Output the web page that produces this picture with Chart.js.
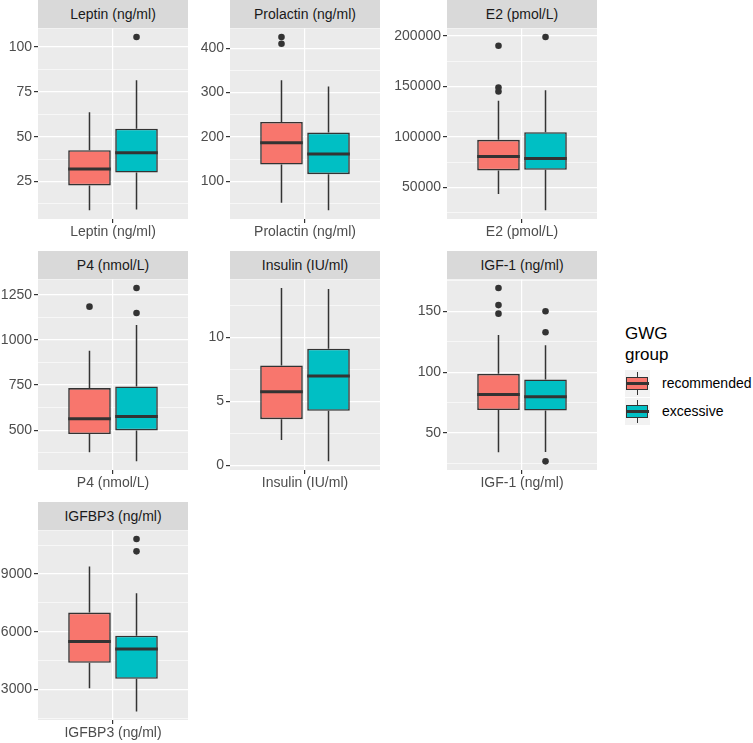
<!DOCTYPE html>
<html>
<head>
<meta charset="utf-8">
<script src="https://cdn.jsdelivr.net/npm/chart.js@4.4.1/dist/chart.umd.min.js"></script>
<style>
  body { margin: 0; background: #fff; font-family: 'Liberation Sans', Arial, sans-serif; }
  #wrap { position: relative; width: 753px; height: 743px; overflow: hidden; }
  .strip { position: absolute; width: 150px; height: 28px; line-height: 28px; background: #D9D9D9;
           color: #1A1A1A; font-size: 14px; text-align: center; white-space: nowrap; }
  canvas { position: absolute; }
  .legtitle { position: absolute; left: 625px; top: 323px; font-size: 17px; line-height: 21px; color: #000; }
  .key { position: absolute; left: 625px; width: 25px; height: 27px; background: #F2F2F2; }
  .key .wh { position: absolute; left: 11.8px; top: 2px; width: 1.5px; height: 23px; background: #333; }
  .key .bx { position: absolute; left: 1px; top: 7px; width: 20px; height: 11px; border: 1.5px solid #333; }
  .key .md { position: absolute; left: 1px; top: 12px; width: 23px; height: 3px; background: #333; }
  .leglab { position: absolute; left: 662px; font-size: 14px; line-height: 16px; color: #000; }
</style>
</head>
<body>
<div id="wrap"></div>
<script>
const panelNames = ['Leptin (ng/ml)', 'Prolactin (ng/ml)', 'E2 (pmol/L)', 'P4 (nmol/L)',
                    'Insulin (IU/ml)', 'IGF-1 (ng/ml)', 'IGFBP3 (ng/ml)'];
const groupNames = ['recommended', 'excessive'];
const groupColors = ['#F8766D', '#00BFC4'];

// [lower whisker, Q1, median, Q3, upper whisker] for each panel
const recommendedStats = [
  [8.9, 22.8, 31.9, 42.5, 63.6],
  [52, 138, 187, 234, 328],
  [43500, 66800, 80700, 97200, 136000],
  [378, 478, 563, 733, 940],
  [1.97, 3.61, 5.75, 7.81, 13.87],
  [34.2, 68.9, 81.7, 98.6, 130.4],
  [3067, 4390, 5500, 7000, 9397]
];
const excessiveStats = [
  [9.4, 30, 41, 54.5, 81.5],
  [35, 116.5, 162, 210, 314],
  [27300, 67500, 78700, 104800, 146300],
  [327, 498, 575, 742, 1083],
  [0.31, 4.26, 6.98, 9.12, 13.79],
  [34.5, 68.5, 79.8, 94, 122.1],
  [1866, 3560, 5108, 5794, 8005]
];
const recommendedOutliers = [[], [410, 425], [145000, 149000, 190400], [1184], [], [148, 155, 169], []];
const excessiveOutliers = [[105.6], [], [199000], [1149, 1287], [], [26.8, 132.7, 150], [10180, 10820]];

const yTicks = [
  [25, 50, 75, 100],
  [100, 200, 300, 400],
  [50000, 100000, 150000, 200000],
  [500, 750, 1000, 1250],
  [0, 5, 10],
  [50, 100, 150],
  [3000, 6000, 9000]
];

const allStats = [recommendedStats, excessiveStats];
const allOutliers = [recommendedOutliers, excessiveOutliers];

const colLeft = [38, 230, 447];
const rowTop = [28, 279, 530];
const rowH = [191, 191, 190];

const boxPlugin = {
  id: 'boxes',
  beforeDraw(chart) {
    const a = chart.chartArea, c = chart.ctx;
    c.save();
    c.fillStyle = '#EBEBEB';
    c.fillRect(a.left, a.top, a.right - a.left, a.bottom - a.top);
    c.restore();
  },
  afterDatasetsDraw(chart) {
    const y = chart.scales.y, c = chart.ctx;
    chart.data.datasets.forEach((ds, i) => {
      const bar = chart.getDatasetMeta(i).data[0];
      const [lo, q1, med, q3, hi] = ds.stats;
      c.save();
      c.strokeStyle = '#333333';
      c.lineWidth = 1.5;
      c.beginPath();
      c.moveTo(bar.x, y.getPixelForValue(q3));
      c.lineTo(bar.x, y.getPixelForValue(hi));
      c.moveTo(bar.x, y.getPixelForValue(q1));
      c.lineTo(bar.x, y.getPixelForValue(lo));
      c.stroke();
      c.lineWidth = 3;
      c.beginPath();
      c.moveTo(bar.x - bar.width / 2, y.getPixelForValue(med));
      c.lineTo(bar.x + bar.width / 2, y.getPixelForValue(med));
      c.stroke();
      c.fillStyle = '#333333';
      ds.outliers.forEach(v => {
        c.beginPath();
        c.arc(bar.x, y.getPixelForValue(v), 3.3, 0, Math.PI * 2);
        c.fill();
      });
      c.restore();
    });
  }
};

const wrap = document.getElementById('wrap');

panelNames.forEach((name, p) => {
  const col = p % 3, row = Math.floor(p / 3);
  const left = colLeft[col], top = rowTop[row], h = rowH[row];

  // y limits like ggplot: data range + 5%
  const vals = [];
  for (let k = 0; k < 2; k++) vals.push(...allStats[k][p], ...allOutliers[k][p]);
  const lo = Math.min(...vals), hi = Math.max(...vals);
  const pad = (hi - lo) * 0.05;
  const yMin = lo - pad, yMax = hi + pad;

  const majors = yTicks[p];
  const step = majors[1] - majors[0];
  const tickList = [];
  for (let v = majors[0] - step / 2; v <= majors[majors.length - 1] + step / 2 + 1e-9; v += step / 2) {
    if (v >= yMin && v <= yMax) tickList.push({ value: v, major: majors.includes(v) });
  }

  const strip = document.createElement('div');
  strip.className = 'strip';
  strip.style.left = left + 'px';
  strip.style.top = (top - 28) + 'px';
  strip.textContent = name;
  wrap.appendChild(strip);

  const cv = document.createElement('canvas');
  cv.width = 210;
  cv.height = 10 + h + 30;
  cv.style.left = (left - 60) + 'px';
  cv.style.top = (top - 10) + 'px';
  wrap.appendChild(cv);

  new Chart(cv, {
    type: 'bar',
    data: {
      labels: [name],
      datasets: groupNames.map((g, k) => ({
        label: g,
        data: [[allStats[k][p][1], allStats[k][p][3]]],
        stats: allStats[k][p],
        outliers: allOutliers[k][p],
        backgroundColor: groupColors[k],
        borderColor: '#333333',
        borderWidth: 1.6,
        borderSkipped: false,
        categoryPercentage: 0.627,
        barPercentage: 0.906
      }))
    },
    options: {
      responsive: false,
      animation: false,
      layout: { padding: { top: 10, left: 0, right: 0, bottom: 0 } },
      plugins: { legend: { display: false }, tooltip: { enabled: false } },
      scales: {
        x: {
          grid: { offset: false, color: '#FFFFFF', lineWidth: 1.2, tickLength: 4, tickColor: '#333333', tickWidth: 1.2 },
          border: { display: false },
          ticks: { color: '#4D4D4D', font: { size: 14 }, padding: 1 },
          afterFit: s => { s.height = 30; }
        },
        y: {
          min: yMin,
          max: yMax,
          bounds: 'data',
          beginAtZero: false,
          grid: {
            color: '#FFFFFF',
            lineWidth: ctx => (ctx.tick && ctx.tick.major ? 1.2 : 0.6),
            tickLength: 4,
            tickWidth: 1.2,
            tickColor: ctx => (ctx.tick && ctx.tick.major ? '#333333' : 'rgba(0,0,0,0)')
          },
          border: { display: false },
          ticks: {
            autoSkip: false,
            color: '#4D4D4D',
            font: { size: 14 },
            padding: 2,
            callback: (v, i, t) => (t[i].major ? String(v) : '')
          },
          afterBuildTicks: s => { s.ticks = tickList.map(t => ({ value: t.value, major: t.major })); },
          afterFit: s => { s.width = 60; }
        }
      }
    },
    plugins: [boxPlugin]
  });
});

// legend
const title = document.createElement('div');
title.className = 'legtitle';
title.innerHTML = 'GWG<br>group';
wrap.appendChild(title);
const keyTops = [370, 398];
groupNames.forEach((g, k) => {
  const key = document.createElement('div');
  key.className = 'key';
  key.style.top = keyTops[k] + 'px';
  key.innerHTML = '<div class="wh"></div><div class="bx" style="background:' + groupColors[k] +
                  '"></div><div class="md"></div>';
  wrap.appendChild(key);
  const lab = document.createElement('div');
  lab.className = 'leglab';
  lab.style.top = (keyTops[k] + 5) + 'px';
  lab.textContent = g;
  wrap.appendChild(lab);
});
</script>
</body>
</html>
